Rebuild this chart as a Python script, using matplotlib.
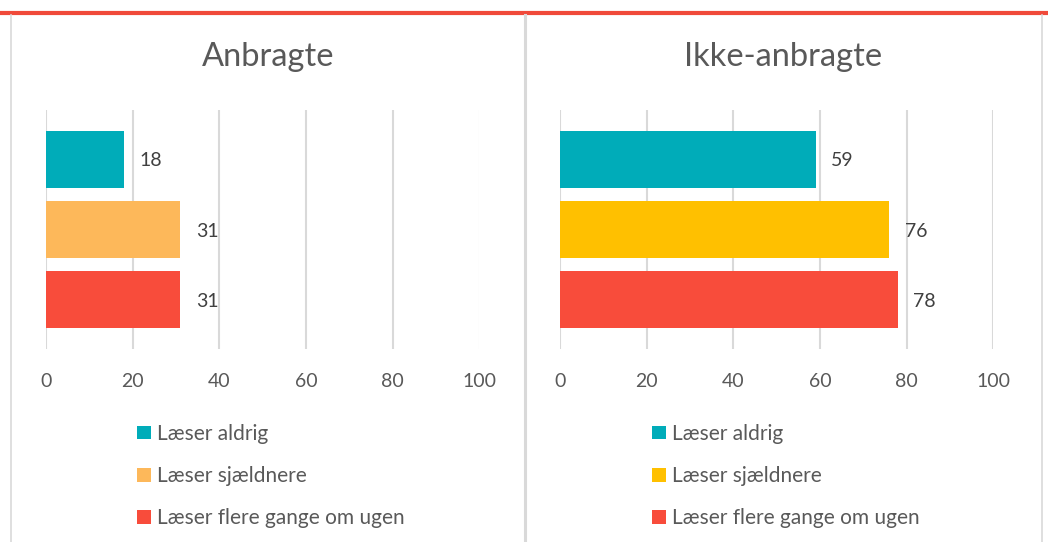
import matplotlib
matplotlib.use("Agg")
import matplotlib.pyplot as plt
from matplotlib.lines import Line2D
from matplotlib.patches import Patch

plt.rcParams['font.family'] = ['Lato', 'DejaVu Sans']

categories = ["Læser aldrig", "Læser sjældnere", "Læser flere gange om ugen"]
titles = ["Anbragte", "Ikke-anbragte"]
values_anbragte = [18, 31, 31]
values_ikke = [59, 76, 78]
xticks = [0, 20, 40, 60, 80, 100]

colors_left = ["#00ACB9", "#FDB85A", "#F84C3B"]
colors_right = ["#00ACB9", "#FFC000", "#F84C3B"]

W, H = 1048, 542
fig = plt.figure(figsize=(W / 100, H / 100), dpi=100)

TXT = "#595959"
LBL = "#404040"
GRID = "#D9D9D9"

panels = [
    (46, titles[0], values_anbragte, colors_left, 268),
    (560, titles[1], values_ikke, colors_right, 783),
]

for x0, title, vals, cols, tx in panels:
    ax = fig.add_axes([x0 / W, 1 - 349 / H, 433.5 / W, 239 / H])
    ypos = list(range(len(categories)))
    ax.barh(ypos, vals, height=0.81, color=cols, zorder=3)
    ax.set_xlim(0, 100)
    ax.set_ylim(2.70, -0.70)
    ax.set_xticks(xticks)
    ax.set_xticklabels([str(t) for t in xticks])
    ax.set_yticks([])
    ax.tick_params(axis='x', length=0, pad=17.5, labelsize=14, labelcolor=TXT)
    for s in ax.spines.values():
        s.set_visible(False)
    ax.grid(axis='x', color=GRID, linewidth=1.5, zorder=0)
    for y, v in zip(ypos, vals):
        ax.annotate(str(v), xy=(v, y), xytext=(11, 0), textcoords='offset points',
                    ha='left', va='center_baseline', fontsize=14, color=LBL)
    fig.text(tx / W, 1 - 57 / H, title, ha='center', va='center',
             fontsize=23.5, color=TXT, fontweight='normal')
    handles = [Patch(facecolor=c, edgecolor='none') for c in cols]
    leg_x = (137 if x0 < 300 else 652) - 8
    fig.legend(handles, categories, loc='upper left',
               bbox_to_anchor=(leg_x / W, 1 - 415.5 / H),
               frameon=False, fontsize=15, labelcolor=TXT,
               handlelength=0.65, handleheight=0.65, handletextpad=0.3,
               labelspacing=1.07, borderaxespad=0)

# decorations: red top line and panel borders
fig.add_artist(Line2D([0, 1], [1 - 12.5 / H, 1 - 12.5 / H], color="#F04A3A",
                      linewidth=3, transform=fig.transFigure))
for bx, lw in [(10.5, 1.2), (525, 2.2), (1042, 1.2)]:
    fig.add_artist(Line2D([bx / W, bx / W], [0, 1 - 15 / H], color=GRID,
                          linewidth=lw, transform=fig.transFigure))

fig.savefig("out.png", dpi=100, facecolor="white")
